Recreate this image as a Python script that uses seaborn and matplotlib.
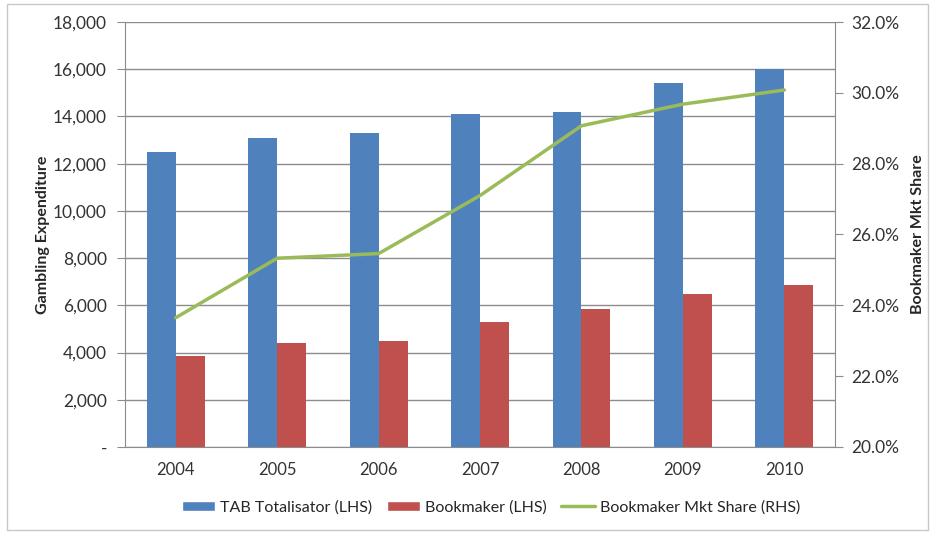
import matplotlib
matplotlib.use("Agg")
import matplotlib.pyplot as plt
import matplotlib.ticker as mticker
from matplotlib.patches import Patch, Rectangle
from matplotlib.lines import Line2D
import numpy as np
import pandas as pd
import seaborn as sns

years = ["2004", "2005", "2006", "2007", "2008", "2009", "2010"]
tab_totalisator = [12500, 13100, 13300, 14100, 14200, 15400, 16000]
bookmaker = [3850, 4400, 4500, 5300, 5850, 6500, 6850]
bookmaker_share = [23.65, 25.33, 25.46, 27.1, 29.07, 29.68, 30.08]

series_names = ["TAB Totalisator (LHS)", "Bookmaker (LHS)", "Bookmaker Mkt Share (RHS)"]
colors = {"TAB Totalisator (LHS)": "#4F81BD", "Bookmaker (LHS)": "#C0504D"}
line_color = "#9BBB59"
grid_color = "#8C8C8C"

sns.set_style("white")
plt.rcParams["font.family"] = ["Lato", "DejaVu Sans"]

bars = pd.DataFrame({
    "Year": years * 2,
    "Value": tab_totalisator + bookmaker,
    "Series": [series_names[0]] * len(years) + [series_names[1]] * len(years),
})

fig = plt.figure(figsize=(9.35, 5.33), dpi=100)
ax = fig.add_axes([0.1337, 0.1614, 0.7594, 0.7973])

sns.barplot(data=bars, x="Year", y="Value", hue="Series", palette=colors,
            width=0.57, ax=ax, legend=False, saturation=1, linewidth=0)

ax.set_ylim(0, 18000)
ax.set_xlim(-0.5, len(years) - 0.5)
ax.yaxis.set_major_locator(mticker.MultipleLocator(2000))
ax.yaxis.set_major_formatter(mticker.FuncFormatter(lambda v, p: "-" if v == 0 else f"{v:,.0f}"))
ax.grid(axis="y", color=grid_color, linewidth=1)
ax.set_axisbelow(True)
ax.set_xlabel("")
ax.set_ylabel("Gambling Expenditure", fontsize=11.5, fontweight="bold", labelpad=2)

# category separators on the x axis
ax.set_xticks(np.arange(-0.5, len(years), 1), minor=True)
ax.tick_params(axis="x", which="major", length=0, pad=11, labelsize=12, colors="#333333")
ax.tick_params(axis="x", which="minor", length=6, color=grid_color, direction="out")
ax.tick_params(axis="y", length=6, color=grid_color, direction="out", pad=7,
               labelsize=12.5, colors="#333333")
for side in ["left", "bottom"]:
    ax.spines[side].set_color(grid_color)
for side in ["top", "right"]:
    ax.spines[side].set_visible(False)

ax2 = ax.twinx()
sns.lineplot(x=np.arange(len(years)), y=bookmaker_share, color=line_color,
             linewidth=2.5, ax=ax2)
ax2.set_ylim(20, 32)
ax2.yaxis.set_major_locator(mticker.MultipleLocator(2))
ax2.yaxis.set_major_formatter(mticker.FuncFormatter(lambda v, p: f"{v:.1f}%"))
ax2.set_ylabel("Bookmaker Mkt Share", fontsize=11.5, fontweight="bold", labelpad=8)
ax2.tick_params(axis="y", length=6, color=grid_color, direction="out", pad=6,
                labelsize=12.5, colors="#333333")
ax2.spines["right"].set_color(grid_color)
for side in ["top", "left", "bottom"]:
    ax2.spines[side].set_visible(False)

handles = [
    Patch(facecolor=colors[series_names[0]], label=series_names[0]),
    Patch(facecolor=colors[series_names[1]], label=series_names[1]),
    Line2D([0], [0], color=line_color, linewidth=2.5, label=series_names[2]),
]
fig.legend(handles=handles, loc="center", bbox_to_anchor=(0.525, 0.048), ncol=3,
           frameon=False, fontsize=11.5, handlelength=2.1, handleheight=0.6,
           columnspacing=0.9, handletextpad=0.3)

# thin frame around the chart area
fig.patches.append(Rectangle((0.008, 0.005), 0.985, 0.988, transform=fig.transFigure,
                             fill=False, edgecolor="#C8C8C8", linewidth=1))

fig.savefig("out.png", dpi=100)
